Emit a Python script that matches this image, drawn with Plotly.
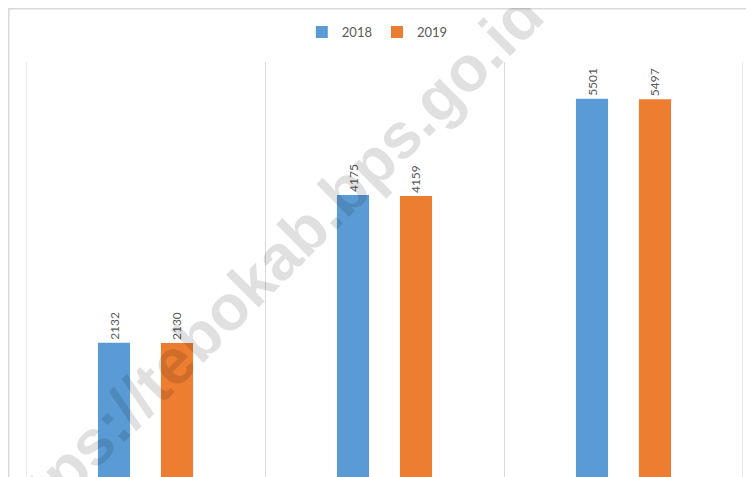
import plotly.graph_objects as go

categories = [0, 1, 2]
series_names = ["2018", "2019"]
values_2018 = [2132, 4175, 5501]
values_2019 = [2130, 4159, 5497]
colors = ["#5B9BD5", "#ED7D31"]

# page body has an 8px margin, so the figure starts at (8, 8) on screen
OFF = 8
W, H = 754 - OFF, 477 - OFF
L, R, T, B = 26 - OFF, 11, 62 - OFF, 0
pw, ph = W - L - R, H - T - B

fig = go.Figure()
for name, vals, col in zip(series_names, [values_2018, values_2019], colors):
    fig.add_trace(go.Bar(
        x=categories, y=vals, name=name, marker=dict(color=col, line=dict(width=0)),
        text=[str(v) for v in vals], textposition="outside", textangle=-90,
        textfont=dict(family="Lato, Liberation Sans, sans-serif", size=12, color="#595959"),
        cliponaxis=False,
    ))

fig.update_layout(
    width=W, height=H,
    margin=dict(l=L, r=R, t=T, b=B),
    paper_bgcolor="white", plot_bgcolor="white",
    barmode="group", bargap=0.473, bargroupgap=0.49,
    showlegend=True,
    legend=dict(orientation="h", x=0.49, xanchor="center", y=1 + (T - (32 - OFF)) / ph, yanchor="middle",
                font=dict(family="Lato, Liberation Sans, sans-serif", size=13, color="#595959"),
                itemwidth=30, traceorder="normal"),
    xaxis=dict(range=[-0.5, 2.5], tickvals=[-0.5, 0.5, 1.5, 2.5], showticklabels=False,
               showgrid=True, gridcolor="#D9D9D9", gridwidth=1, zeroline=False, showline=False,
               ticks=""),
    yaxis=dict(range=[280, 6010], showticklabels=False, showgrid=False, zeroline=False,
               showline=False, ticks=""),
)

# edge gridlines (category boundaries at the plot edges)
for xv in (-0.5, 2.5):
    fig.add_shape(type="line", xref="x", yref="paper", x0=xv, x1=xv, y0=0, y1=1,
                  line=dict(color="#D9D9D9", width=1), layer="below")

# chart frame (partly cropped)
fig.add_shape(type="rect", xref="paper", yref="paper",
              x0=(0.8 - L) / pw, x1=(W + 20 - L) / pw,
              y0=-0.2, y1=1 + (T - 0.8) / ph,
              line=dict(color="#D9D9D9", width=1.5), fillcolor="rgba(0,0,0,0)", layer="below")

# watermark
fig.add_annotation(text="<b>https://tebokab.bps.go.id</b>", xref="paper", yref="paper",
                   x=(263 - OFF - L) / pw, y=1 - (272 - OFF - T) / ph,
                   xanchor="center", yanchor="middle", showarrow=False, textangle=-45,
                   font=dict(family="Liberation Sans, Arial, sans-serif", size=64,
                             color="rgba(0,0,0,0.12)"))

fig.write_html("out.html")
